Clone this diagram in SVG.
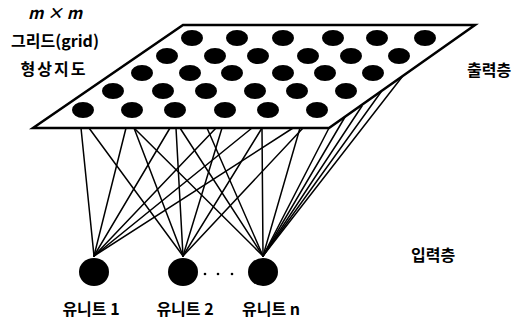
<svg xmlns="http://www.w3.org/2000/svg" width="520" height="320" viewBox="0 0 520 320">
<style>
.t{font-family:"Noto Sans CJK KR","Liberation Sans",sans-serif;font-size:16px;font-weight:bold;fill:#000}
.c line{stroke:#000;stroke-width:1.5;stroke-linecap:round}
.dot{fill:#000}
</style>
<rect width="520" height="320" fill="#fff"/>
<g id="labels">
<text class="t" x="55" y="19" text-anchor="middle" font-family="Liberation Sans" font-style="italic">m × m</text>
<text class="t" x="55" y="47" text-anchor="middle">그리드(grid)</text>
<text class="t" x="54" y="75" text-anchor="middle" letter-spacing="2">형상지도</text>
<text class="t" x="467" y="76">출력층</text>
<text class="t" x="411" y="261">입력층</text>
</g>
<g class="c" id="connectors">
<line x1="94" y1="256" x2="81" y2="128"/>
<line x1="94" y1="256" x2="126" y2="128"/>
<line x1="94" y1="256" x2="170" y2="128"/>
<line x1="94" y1="256" x2="216" y2="128"/>
<line x1="94" y1="256" x2="252" y2="128"/>
<line x1="94" y1="256" x2="293" y2="128"/>
<line x1="183" y1="256" x2="89" y2="128"/>
<line x1="183" y1="256" x2="134" y2="128"/>
<line x1="183" y1="256" x2="176" y2="128"/>
<line x1="183" y1="256" x2="222" y2="128"/>
<line x1="183" y1="256" x2="262" y2="128"/>
<line x1="183" y1="256" x2="303" y2="128"/>
<line x1="263" y1="256" x2="134" y2="128"/>
<line x1="263" y1="256" x2="180" y2="128"/>
<line x1="263" y1="256" x2="207" y2="128"/>
<line x1="263" y1="256" x2="262" y2="128"/>
<line x1="263" y1="256" x2="300" y2="128"/>
<line x1="263" y1="256" x2="329" y2="128"/>
<line x1="263" y1="256" x2="345" y2="117"/>
<line x1="263" y1="256" x2="362" y2="106"/>
<line x1="263" y1="256" x2="381" y2="92"/>
<line x1="263" y1="256" x2="402" y2="77"/>
</g>
<g id="output-layer">
<polygon points="183,25 475,25 329,128 33,128" fill="#fff" stroke="#000" stroke-width="2.5" stroke-linejoin="miter"/>
<g class="dot">
<ellipse cx="192" cy="38" rx="11" ry="8"/><ellipse cx="237" cy="38" rx="11" ry="8"/><ellipse cx="283" cy="38" rx="11" ry="8"/><ellipse cx="333" cy="38" rx="11" ry="8"/><ellipse cx="377" cy="38" rx="11" ry="8"/><ellipse cx="425" cy="38" rx="11" ry="8"/>
<ellipse cx="167" cy="56" rx="11" ry="8"/><ellipse cx="215" cy="56" rx="11" ry="8"/><ellipse cx="258" cy="56" rx="11" ry="8"/><ellipse cx="308" cy="56" rx="11" ry="8"/><ellipse cx="351" cy="56" rx="11" ry="8"/><ellipse cx="399" cy="56" rx="11" ry="8"/>
<ellipse cx="142" cy="73" rx="11" ry="8"/><ellipse cx="190" cy="73" rx="11" ry="8"/><ellipse cx="232" cy="73" rx="11" ry="8"/><ellipse cx="283" cy="73" rx="11" ry="8"/><ellipse cx="325" cy="73" rx="11" ry="8"/><ellipse cx="373" cy="73" rx="11" ry="8"/>
<ellipse cx="113" cy="91" rx="11" ry="8"/><ellipse cx="163" cy="91" rx="11" ry="8"/><ellipse cx="206" cy="91" rx="11" ry="8"/><ellipse cx="255" cy="91" rx="11" ry="8"/><ellipse cx="297" cy="91" rx="11" ry="8"/><ellipse cx="346" cy="91" rx="11" ry="8"/>
<ellipse cx="83" cy="110" rx="11" ry="8"/><ellipse cx="132" cy="110" rx="11" ry="8"/><ellipse cx="175" cy="110" rx="11" ry="8"/><ellipse cx="225" cy="110" rx="11" ry="8"/><ellipse cx="268" cy="110" rx="11" ry="8"/><ellipse cx="317" cy="110" rx="11" ry="8"/>
</g>
</g>
<g id="unit1">
<ellipse class="dot" cx="94" cy="272" rx="15" ry="14"/>
<text class="t" x="91" y="315" text-anchor="middle">유니트 1</text>
</g>
<g id="unit2">
<ellipse class="dot" cx="183" cy="272" rx="15" ry="14"/>
<text class="t" x="185" y="315" text-anchor="middle">유니트 2</text>
</g>
<g id="ellipsis">
<circle class="dot" cx="205" cy="274" r="1.3"/><circle class="dot" cx="218" cy="274" r="1.3"/><circle class="dot" cx="232" cy="274" r="1.3"/>
</g>
<g id="unit3">
<ellipse class="dot" cx="263" cy="272" rx="15" ry="14"/>
<text class="t" x="271" y="315" text-anchor="middle">유니트 n</text>
</g>
</svg>
